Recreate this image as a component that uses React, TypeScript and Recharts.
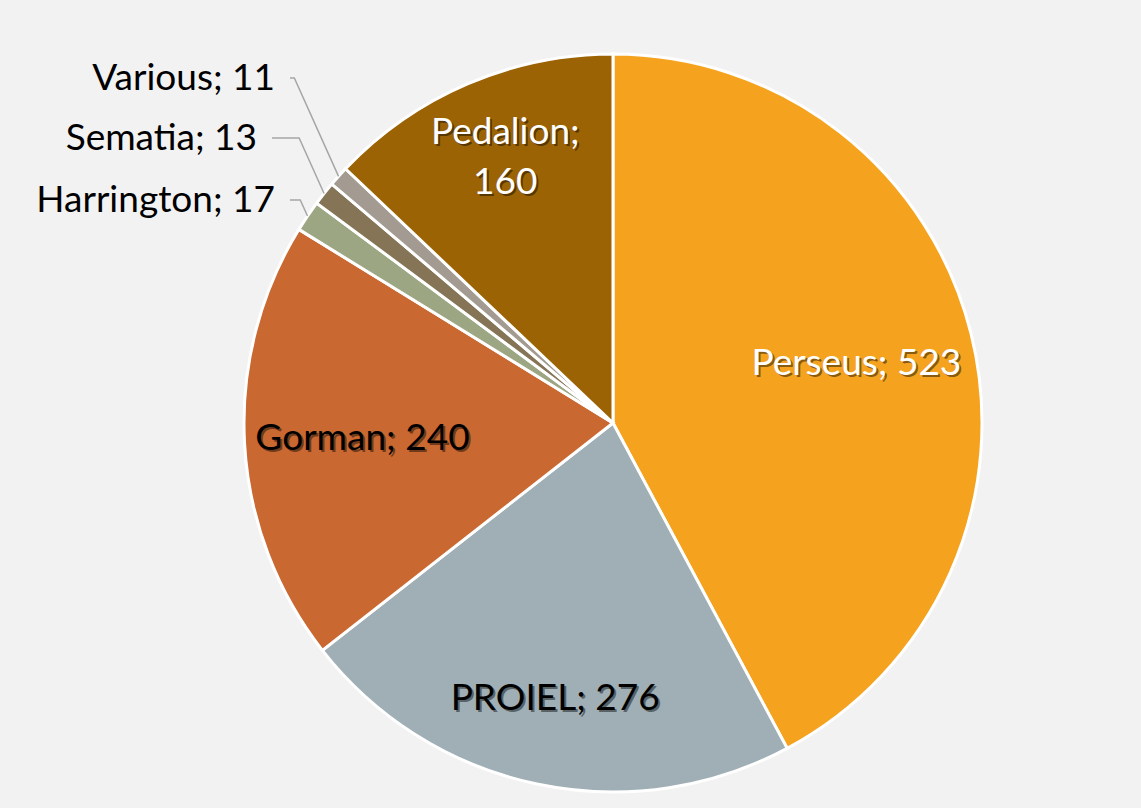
import React from "react";
import { PieChart, Pie, Cell } from "recharts";

const names = ["Perseus", "PROIEL", "Gorman", "Harrington", "Sematia", "Various", "Pedalion"];
const counts = [523, 276, 240, 17, 13, 11, 160];
const colors = ["#F5A31F", "#9FAFB5", "#C96831", "#9DA683", "#857456", "#A39B91", "#9C6304"];
const inside = [true, true, true, false, false, false, true];
const textColors = ["#fff", "#000", "#000", "#000", "#000", "#000", "#fff"];
const radiusFactor = [0.68, 0.76, 0.68, 0, 0, 0, 0.74];
// outside label anchors (text end x, baseline y)
const outsideAt: Record<number, [number, number]> = {
  3: [275, 212],
  4: [257, 150],
  5: [275, 90],
};

const data = names.map((name, i) => ({ name, value: counts[i] }));
const RAD = Math.PI / 180;
const font = "'Lato', 'Open Sans', sans-serif";

function Shadowed({ x, y, anchor, fill, children }: any) {
  return (
    <g fontFamily={font} fontSize={37} textAnchor={anchor}>
      <text x={x + 2} y={y + 2} fill="rgba(0,0,0,0.45)">{children}</text>
      <text x={x} y={y} fill={fill}>{children}</text>
    </g>
  );
}

function renderLabel(props: any) {
  const { cx, cy, midAngle, outerRadius, index } = props;
  const label = `${names[index]}; ${counts[index]}`;
  if (inside[index]) {
    const r = outerRadius * radiusFactor[index];
    const x = cx + r * Math.cos(-midAngle * RAD);
    const y = cy + r * Math.sin(-midAngle * RAD);
    if (index === 6) {
      return (
        <g>
          <Shadowed x={x} y={y - 28} anchor="middle" fill={textColors[index]}>{names[index] + ";"}</Shadowed>
          <Shadowed x={x} y={y + 22} anchor="middle" fill={textColors[index]}>{String(counts[index])}</Shadowed>
        </g>
      );
    }
    return <Shadowed x={x} y={y + 13} anchor="middle" fill={textColors[index]}>{label}</Shadowed>;
  }
  const ex = cx + outerRadius * Math.cos(-midAngle * RAD);
  const ey = cy + outerRadius * Math.sin(-midAngle * RAD);
  const [tx, ty] = outsideAt[index];
  const ly = ty - 12;
  const mx = ex - (ey - ly) * 0.45;
  return (
    <g>
      <polyline points={`${ex},${ey} ${mx},${ly} ${tx + 15},${ly}`} fill="none" stroke="#a6a6a6" strokeWidth={1.5} />
      <text x={tx} y={ty} textAnchor="end" fontFamily={font} fontSize={37} fill="#000">{label}</text>
    </g>
  );
}

export default function App() {
  return (
    <div style={{ position: "absolute", left: 0, top: 0, width: 1141, height: 808, background: "#f2f2f2" }}>
      <PieChart width={1141} height={808}>
        <Pie
          data={data}
          dataKey="value"
          nameKey="name"
          cx={608}
          cy={418}
          outerRadius={369}
          startAngle={90}
          endAngle={-270}
          stroke="#fff"
          strokeWidth={3}
          label={renderLabel}
          labelLine={false}
          isAnimationActive={false}
        >
          {data.map((_, i) => (
            <Cell key={i} fill={colors[i]} />
          ))}
        </Pie>
      </PieChart>
    </div>
  );
}
